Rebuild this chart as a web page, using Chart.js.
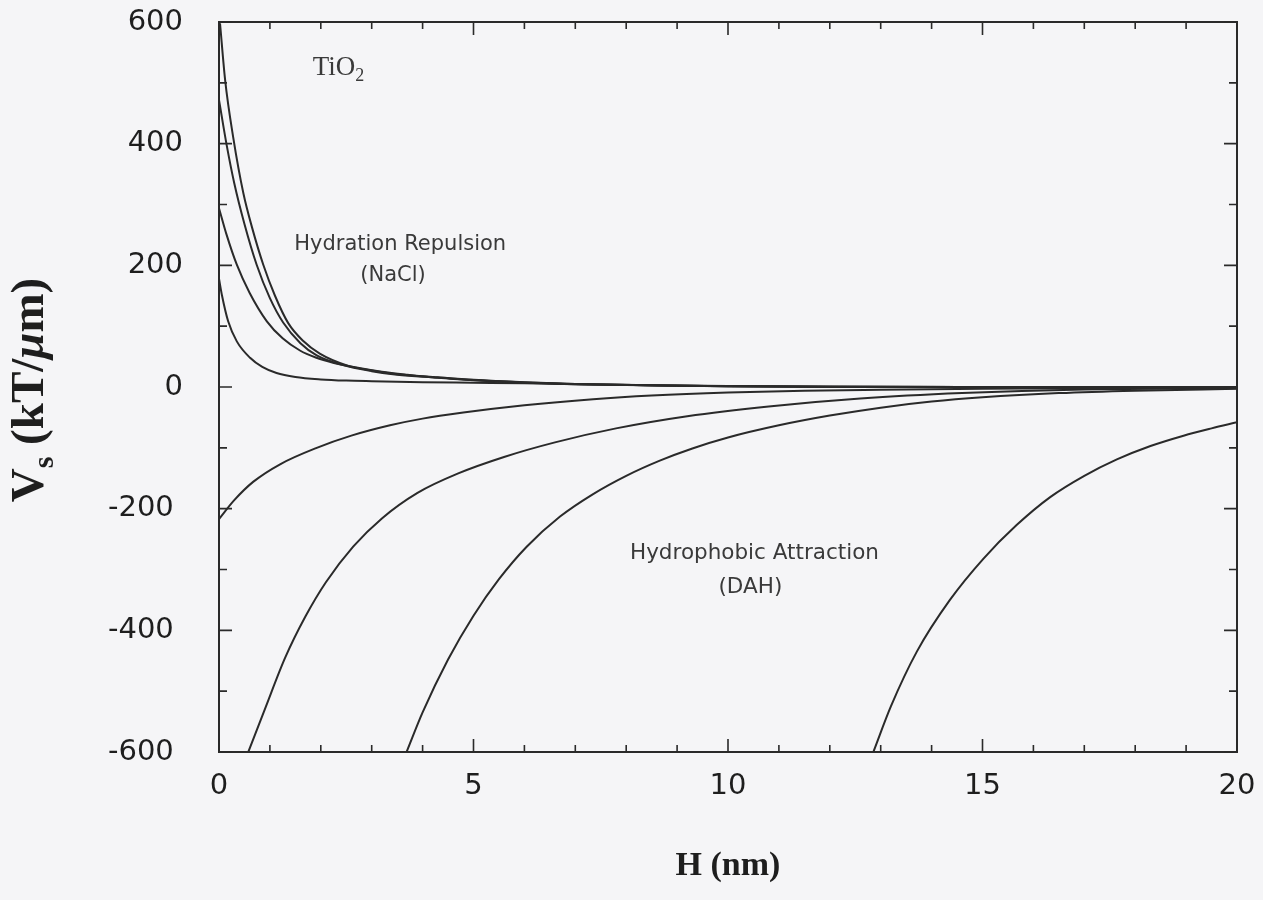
<!DOCTYPE html>
<html>
<head>
<meta charset="utf-8">
<script src="https://cdn.jsdelivr.net/npm/chart.js@4.4.1/dist/chart.umd.min.js"></script>
<style>
  html, body { margin: 0; padding: 0; background: #f5f5f7; }
  #wrap { width: 1263px; height: 900px; }
</style>
</head>
<body>
<div id="wrap"><canvas id="vsChart" width="1263" height="900"></canvas></div>
<script>
// H in nm, Vs in kT/um
// hydration repulsion (NaCl), four TiO2 cases
const rep1H = [0.02, 0.12, 0.28, 0.48, 0.65, 0.87, 1.1, 1.36, 1.65, 1.98, 2.5, 3.0, 3.5, 4.3, 5.0, 6.0, 7.0, 8.5, 10, 12, 15, 20];
const rep1V = [598, 505, 410, 318, 262, 201, 150, 105, 76, 55, 36, 27, 21, 16, 12, 8, 5, 3, 1.5, 0.5, 0, 0];
const rep2H = [0, 0.15, 0.3, 0.5, 0.74, 1.0, 1.26, 1.6, 1.92, 2.4, 3.0, 3.5, 4.3, 5.0, 6.0, 7.0, 8.5, 10, 12, 15, 20];
const rep2V = [472, 398, 335, 268, 201, 146, 106, 72, 52, 37, 26, 20, 15.5, 11.5, 7.5, 4.8, 2.8, 1.4, 0.5, 0, 0];
const rep3H = [0, 0.15, 0.35, 0.6, 0.94, 1.25, 1.59, 1.9, 2.24, 2.7, 3.2, 3.7, 4.3, 5.0, 6.0, 7.0, 8.5, 10, 12, 15, 20];
const rep3V = [294, 250, 201, 155, 108, 80, 60, 48.5, 40, 32, 25, 20, 15, 11, 7, 4.5, 2.5, 1.2, 0.4, 0, 0];
const rep4H = [0, 0.06, 0.18, 0.35, 0.61, 0.85, 1.13, 1.5, 2.0, 2.5, 3.0, 4.0, 5.0, 6.0, 7.0, 8.5, 10, 12, 15, 20];
const rep4V = [178, 150, 108, 75, 48, 33, 23, 16.5, 12.5, 10.5, 9.5, 8, 7, 6, 4.5, 2.8, 1.4, 0.5, 0, 0];

// hydrophobic attraction (DAH)
const att1H = [0, 0.3, 0.67, 1.2, 1.92, 2.6, 3.36, 4.0, 4.8, 6.0, 7.35, 8.5, 10, 11.5, 13, 15, 17.5, 20];
const att1V = [-217, -186, -156, -127, -100, -80, -63, -52, -42, -30, -20, -14, -9, -6, -4.5, -3, -2, -1];
const att2H = [0.58, 0.9, 1.3, 1.7, 2.1, 2.64, 3.2, 3.9, 4.7, 5.6, 6.6, 7.8, 9.2, 10.8, 12.6, 14.6, 17, 20];
const att2V = [-599, -530, -445, -377, -321, -262, -216, -174, -142, -115, -91, -68, -48, -32, -19, -10, -4, -2];
const att3H = [3.69, 4.0, 4.5, 5.0, 5.5, 6.04, 6.7, 7.35, 8.0, 8.66, 9.3, 10, 11, 12, 13, 14, 15, 16.5, 18, 20];
const att3V = [-599, -535, -448, -376, -316, -263, -213, -176, -146, -121, -101, -83, -63, -47, -34, -24, -17, -10, -6, -3];
const att4H = [12.86, 13.2, 13.71, 14.36, 15.02, 15.67, 16.33, 17.0, 17.64, 18.3, 18.95, 19.5, 20];
const att4V = [-599, -525, -435, -350, -282, -227, -181, -146, -119, -97, -80, -68, -58];

const curveH = [rep1H, rep2H, rep3H, rep4H, att1H, att2H, att3H, att4H];
const curveV = [rep1V, rep2V, rep3V, rep4V, att1V, att2V, att3V, att4V];

const ink = '#2a2a2a';
const sansFont = '"DejaVu Sans", "Liberation Sans", sans-serif';
const serifFont = '"Liberation Serif", "DejaVu Serif", serif';

const toPoints = (hs, vs) => hs.map((h, i) => ({ x: h, y: vs[i] }));

const datasets = curveH.map((hs, i) => ({
    data: toPoints(hs, curveV[i]),
    borderColor: ink,
    borderWidth: 2,
    pointRadius: 0,
    fill: false,
    cubicInterpolationMode: 'monotone'
}));

// frame, inward ticks on all sides, curve labels and axis titles
const framePlugin = {
    id: 'frame',
    afterDraw(chart) {
        const ctx = chart.ctx;
        const a = chart.chartArea;
        const xs = chart.scales.x;
        const ys = chart.scales.y;
        ctx.save();
        ctx.strokeStyle = ink;
        ctx.lineWidth = 2;
        ctx.strokeRect(a.left, a.top, a.right - a.left, a.bottom - a.top);

        ctx.lineWidth = 1.6;
        ctx.beginPath();
        for (let h = 0; h <= 20; h++) {
            const px = xs.getPixelForValue(h);
            const len = h % 5 === 0 ? 13 : 7;
            ctx.moveTo(px, a.bottom); ctx.lineTo(px, a.bottom - len);
            ctx.moveTo(px, a.top); ctx.lineTo(px, a.top + len);
        }
        for (let v = -600; v <= 600; v += 100) {
            const py = ys.getPixelForValue(v);
            const len = v % 200 === 0 ? 13 : 8;
            ctx.moveTo(a.left, py); ctx.lineTo(a.left + len, py);
            ctx.moveTo(a.right, py); ctx.lineTo(a.right - len, py);
        }
        ctx.stroke();

        // curve labels
        ctx.fillStyle = '#3a3a3a';
        ctx.textAlign = 'center';
        ctx.textBaseline = 'middle';
        ctx.font = '21px ' + sansFont;
        ctx.fillText('Hydration Repulsion', xs.getPixelForValue(3.56), ys.getPixelForValue(234));
        ctx.fillText('(NaCl)', xs.getPixelForValue(3.42), ys.getPixelForValue(184));
        ctx.font = '21.5px ' + sansFont;
        ctx.fillText('Hydrophobic Attraction', xs.getPixelForValue(10.52), ys.getPixelForValue(-274));
        ctx.fillText('(DAH)', xs.getPixelForValue(10.44), ys.getPixelForValue(-330));

        // TiO2 with subscript
        ctx.textAlign = 'left';
        ctx.textBaseline = 'alphabetic';
        ctx.font = '27px ' + serifFont;
        const tx = xs.getPixelForValue(1.84);
        const ty = ys.getPixelForValue(513);
        ctx.fillText('TiO', tx, ty);
        const tw = ctx.measureText('TiO').width;
        ctx.font = '18px ' + serifFont;
        ctx.fillText('2', tx + tw, ty + 6);

        // x axis title
        ctx.fillStyle = '#1e1e1e';
        ctx.textAlign = 'center';
        ctx.font = 'bold 34px ' + serifFont;
        ctx.fillText('H (nm)', (a.left + a.right) / 2, 875);

        // y axis title, rotated
        ctx.translate(43, 390);
        ctx.rotate(-Math.PI / 2);
        const parts = [
            { t: 'V', f: 'bold 47px ' + serifFont, dy: 0 },
            { t: 's', f: 'bold 30px ' + serifFont, dy: 10 },
            { t: ' (kT/', f: 'bold 47px ' + serifFont, dy: 0 },
            { t: '\u03bc', f: 'italic bold 47px ' + serifFont, dy: 0 },
            { t: 'm)', f: 'bold 47px ' + serifFont, dy: 0 }
        ];
        let total = 0;
        parts.forEach(p => { ctx.font = p.f; p.w = ctx.measureText(p.t).width; total += p.w; });
        let cx = -total / 2;
        ctx.textAlign = 'left';
        parts.forEach(p => {
            ctx.font = p.f;
            ctx.fillText(p.t, cx, p.dy);
            cx += p.w;
        });
        ctx.restore();
    }
};

// drop the label overflow padding so the plot box sits where the layout says
const noOverflow = (scale) => {
    scale.paddingTop = 0;
    scale.paddingBottom = 0;
    scale.paddingLeft = 0;
    scale.paddingRight = 0;
};

new Chart(document.getElementById('vsChart'), {
    type: 'line',
    data: { datasets: datasets },
    options: {
        responsive: false,
        animation: false,
        layout: { padding: { top: 22, right: 26, left: 0, bottom: 0 } },
        plugins: {
            legend: { display: false },
            tooltip: { enabled: false }
        },
        scales: {
            x: {
                type: 'linear',
                min: 0,
                max: 20,
                grid: { display: false, drawTicks: false },
                border: { display: false },
                ticks: {
                    stepSize: 5,
                    padding: 17,
                    color: '#1e1e1e',
                    font: { family: sansFont, size: 29 }
                },
                afterFit: (scale) => { scale.height = 148; noOverflow(scale); }
            },
            y: {
                type: 'linear',
                min: -600,
                max: 600,
                grid: { display: false, drawTicks: false },
                border: { display: false },
                ticks: {
                    stepSize: 200,
                    padding: 36,
                    color: '#1e1e1e',
                    font: { family: sansFont, size: 29 },
                    // negative labels sit a little further left
                    callback: (v) => v < 0 ? v + ' ' : String(v)
                },
                afterFit: (scale) => { scale.width = 219; noOverflow(scale); }
            }
        }
    },
    plugins: [framePlugin]
});
</script>
</body>
</html>
